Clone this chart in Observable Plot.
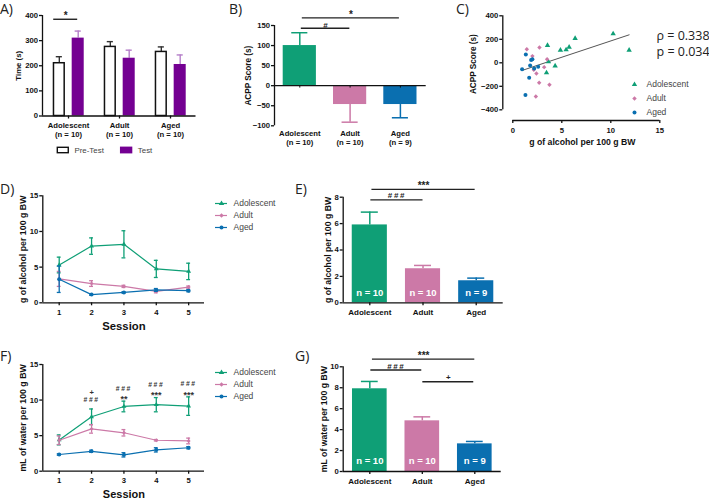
<!DOCTYPE html>
<html><head><meta charset="utf-8">
<script src="https://cdn.jsdelivr.net/npm/d3@7"></script>
<script src="https://cdn.jsdelivr.net/npm/@observablehq/plot@0.6"></script>
<style>
html,body{margin:0;padding:0;background:#fff;overflow:hidden}
#page{position:relative;width:709px;height:500px;overflow:hidden}
#page svg{position:absolute;overflow:visible}
.note{position:absolute;font-family:"Open Sans";color:#222;white-space:pre;line-height:1}
</style></head><body><div id="page"></div>
<script>
// ---------- data ----------
const ageGroups = ["Adolescent", "Adult", "Aged"];
const colors = ["#0f9f76", "#cc79a7", "#0a6fb0"];
const symbols = ["triangle", "diamond2", "circle"];
const sessions = [1, 2, 3, 4, 5];

const timeLabels = ["Adolescent\n(n = 10)", "Adult\n(n = 10)", "Aged\n(n = 10)"];
const timePre = [210, 275, 255];
const timePreErr = [236, 296, 275];
const timeTest = [310, 230, 205];
const timeTestErr = [338, 262, 243];

const acppLabels = ["Adolescent\n(n = 10)", "Adult\n(n = 10)", "Aged\n(n = 9)"];
const acpp = [100, -47, -47];
const acppErr = [132, -91, -80];

const corrAdolescent = [[10.24,247],[11.87,108],[6.36,207],[5.75,133],[5.44,111],[4.86,108],[3.54,148],[3.64,9],[4.32,-26],[3.44,-85]];
const corrAdult = [[1.43,116],[2.72,131],[2.0,57],[3.5,31],[3.2,-37],[2.14,-60],[2.41,-91],[2.69,-170],[3.74,-187],[2.35,-287]];
const corrAged = [[1.33,71],[1.87,23],[1.77,-23],[2.59,-34],[2.18,-48],[0.95,-54],[1.67,-128],[1.29,-275],[2.0,30]];
const corrFit = [[0.95,-65],[11.87,238]];

const alcAdolescent = [5.3, 7.95, 8.2, 4.75, 4.4];
const alcAdolescentErr = [1.1, 1.15, 1.9, 1.2, 1.15];
const alcAdult = [3.35, 2.7, 2.3, 1.6, 2.2];
const alcAdultErr = [1.05, 0.4, 0.15, 0.2, 0.15];
const alcAged = [3.3, 1.15, 1.45, 1.8, 1.7];
const alcAgedErr = [1.85, 0.1, 0.1, 0.2, 0.15];

const alcTotal = [5.9, 2.58, 1.67];
const alcTotalErr = [6.87, 2.83, 1.87];

const waterAdolescent = [4.4, 7.65, 9.1, 9.35, 9.15];
const waterAdolescentErr = [0.7, 1.1, 0.75, 1.0, 1.3];
const waterAdult = [4.35, 5.95, 5.4, 4.35, 4.25];
const waterAdultErr = [0.6, 0.6, 0.45, 0.1, 0.4];
const waterAged = [2.35, 2.8, 2.3, 3.0, 3.3];
const waterAgedErr = [0.1, 0.15, 0.3, 0.3, 0.15];

const waterTotal = [7.9, 4.84, 2.64];
const waterTotalErr = [8.6, 5.22, 2.87];

const nLabels = ["n = 10", "n = 10", "n = 9"];
const waterHash = [[2,9.98,"###"],[3,11.55,"###"],[4,12.15,"###"],[5,12.25,"###"]];
const waterPlus = [[2,11.1,"+"]];
const waterStars = [[3,10.2,"**"],[4,10.75,"***"],[5,10.75,"***"]];

// ---------- helpers ----------
const page = document.getElementById("page");
const INK = "#111", AXW = 1.3, FONT = "Liberation Sans";

function panel(box, frame, x, y, marks) {
  const [x0, y0, x1, y1] = box, [fl, ft, fr, fb] = frame;
  const svg = Plot.plot({
    width: x1 - x0, height: y1 - y0,
    marginLeft: fl - x0, marginTop: ft - y0, marginRight: x1 - fr, marginBottom: y1 - fb,
    x: {axis: null, ...x}, y: {axis: null, ...y},
    style: {fontFamily: FONT, background: "transparent", color: INK, overflow: "visible"},
    marks
  });
  svg.style.left = x0 + "px"; svg.style.top = y0 + "px";
  d3.select(svg).selectAll("text").filter(function () { return this.textContent === "###"; }).style("letter-spacing", "1.6px");
  page.appendChild(svg);
}
const yAxis = (ticks, fontSize = 7.7) => Plot.axisY({ticks, tickSize: 3, tickPadding: 1.5, label: null, fontSize, fontWeight: "bold", strokeWidth: AXW});
const xAxis = (ticks, fmt, fontSize = 7.7, tickPadding = 2.5) => Plot.axisX({ticks, tickFormat: fmt, tickSize: 3, tickPadding, label: null, fontSize, fontWeight: "bold", lineHeight: 1.17, strokeWidth: AXW});
const yTitle = (t, dx, fontSize, dy = 0) => Plot.text([t], {frameAnchor: "left", textAnchor: "middle", dx, dy, rotate: -90, fontSize, fontWeight: "bold"});
const spine = (xv, lo, hi) => Plot.ruleX([xv], {y1: lo, y2: hi, stroke: INK, strokeWidth: AXW});
const base = (yv, a, b) => Plot.ruleY([yv], {x1: a, x2: b, stroke: INK, strokeWidth: AXW});

function errorBars(rows, cap, stroke, sw = 1.4) {
  return [
    Plot.ruleX(rows, {x: "x", y1: "v", y2: "e", stroke, strokeWidth: sw}),
    Plot.ruleY(rows, {x1: d => d.x - cap, x2: d => d.x + cap, y: "e", stroke, strokeWidth: sw})
  ];
}
function sig(a, b, yLine, yText, label) {
  return [
    Plot.ruleY([yLine], {x1: a, x2: b, stroke: "#222", strokeWidth: 1.4}),
    Plot.text([label], {x: (a + b) / 2, y: yText, fontSize: label.includes("*") ? 10 : 8, fill: "#222", fontWeight: "bold"})
  ];
}
function groupBars(values, tops) {
  const rows = values.map((v, i) => ({x: i, v, e: tops[i], c: colors[i]}));
  return [
    ...rows.flatMap(r => errorBars([r], 0.16, r.c, 1.5)),
    Plot.rect(rows, {x1: d => d.x - 0.33, x2: d => d.x + 0.33, y1: 0, y2: "v", fill: "c"})
  ];
}
function lineMarks(series) {
  return series.flatMap(([vals, errs], k) => {
    const rows = vals.map((v, i) => ({s: sessions[i], v, lo: v - errs[i], hi: v + errs[i]}));
    return [
      Plot.ruleX(rows, {x: "s", y1: "lo", y2: "hi", stroke: colors[k], strokeWidth: 1.3}),
      Plot.ruleY(rows, {x1: d => d.s - 0.06, x2: d => d.s + 0.06, y: "lo", stroke: colors[k], strokeWidth: 1.3}),
      Plot.ruleY(rows, {x1: d => d.s - 0.06, x2: d => d.s + 0.06, y: "hi", stroke: colors[k], strokeWidth: 1.3}),
      Plot.line(rows, {x: "s", y: "v", stroke: colors[k], strokeWidth: 1.2}),
      Plot.dot(rows, {x: "s", y: "v", fill: colors[k], symbol: symbols[k], r: k === 2 ? 2 : 1.8})
    ];
  });
}
function legend(left, top, rowGap, swatchW, textGap, withLine, fontSize) {
  const rows = ageGroups.map((g, i) => ({g, c: colors[i], s: symbols[i]}));
  panel([left, top - 8, left + 72, top + 2 * rowGap + 8], [left, top, left + swatchW, top + 2 * rowGap],
    {domain: [0, 1]}, {type: "point", domain: ageGroups, padding: 0}, [
      withLine ? Plot.ruleY(rows, {y: "g", x1: 0, x2: 1, stroke: "c", strokeWidth: 1.2}) : null,
      Plot.dot(rows, {x: 0.5, y: "g", fill: "c", symbol: "s", r: 2}),
      Plot.text(rows, {x: 1, y: "g", text: "g", dx: textGap, textAnchor: "start", fontSize, fill: "#444"})
    ]);
}
function note(text, left, top, size, extra = "") {
  const d = document.createElement("div");
  d.className = "note"; d.textContent = text;
  d.style.cssText = `left:${left}px;top:${top}px;font-size:${size}px;${extra}`;
  page.appendChild(d);
}

// ---------- A ----------
{
  const pre = timePre.map((v, i) => ({x: i - 0.18, v, e: timePreErr[i]}));
  const test = timeTest.map((v, i) => ({x: i + 0.19, v, e: timeTestErr[i]}));
  panel([0, 5, 200, 145], [42, 15, 195.5, 115.5], {domain: [-0.51, 2.5]}, {domain: [0, 400]}, [
    ...errorBars(pre, 0.06, "#333"),
    ...errorBars(test, 0.06, "#b57fc9"),
    Plot.rect(pre, {x1: d => d.x - 0.105, x2: d => d.x + 0.105, y1: 0, y2: "v", fill: "white", stroke: INK, strokeWidth: 1.5}),
    Plot.rect(test, {x1: d => d.x - 0.118, x2: d => d.x + 0.118, y1: 0, y2: "v", fill: "#740092"}),
    base(0, -0.51, 2.5), spine(-0.51, 0, 400),
    yAxis([0, 100, 200, 300, 400]),
    xAxis([0, 1, 2], d => timeLabels[d], 7.7, 3),
    yTitle("Time (s)", -24, 7.8),
    ...sig(-0.29, 0.18, 385, 398, "*")
  ]);
  const keys = ["Pre-Test", "Test"];
  panel([50, 142, 200, 158], [57.3, 147.3, 184, 152.7], {domain: [0, 2]}, {domain: [0, 1]}, [
    Plot.rect(keys, {x1: (d, i) => i, x2: (d, i) => i + 0.173, y1: 0, y2: 1, fill: (d, i) => i ? "#740092" : "white", stroke: (d, i) => i ? "#740092" : INK, strokeWidth: 1.4}),
    Plot.text(keys, {x: (d, i) => i + 0.263, y: 0.5, text: d => d, textAnchor: "start", fontSize: 7.9, fill: "#444"})
  ]);
}
// ---------- B ----------
panel([225, 10, 430, 150], [274, 25, 425.7, 125.3], {domain: [-0.503, 2.513]}, {domain: [-100, 150]}, [
  ...groupBars(acpp, acppErr),
  base(0, -0.503, 2.513), spine(-0.503, -100, 150),
  Plot.ruleX([0, 1, 2], {y1: 0, y2: -6, stroke: INK, strokeWidth: 1}),
  yAxis([-100, -50, 0, 50, 100, 150]),
  Plot.text(acppLabels, {x: (d, i) => i, frameAnchor: "bottom", lineAnchor: "top", dy: 3.5, fontSize: 7.7, fontWeight: "bold", lineHeight: 1.17}),
  yTitle("ACPP Score (s)", -26.5, 8.2),
  ...sig(0.03, 0.995, 143, 150, "#"),
  ...sig(0.05, 1.98, 169, 176, "*")
]);
// ---------- C ----------
{
  const toRows = (pts, k) => pts.map(([x, y]) => ({x, y, k}));
  const all = [...toRows(corrAdolescent, 0), ...toRows(corrAdult, 1), ...toRows(corrAged, 2)];
  panel([465, 5, 670, 150], [502.3, 15.3, 659.3, 120], {domain: [-1.02, 15]}, {domain: [-491, 400]}, [
    Plot.line(corrFit, {x: d => d[0], y: d => d[1], stroke: "#555", strokeWidth: 1}),
    Plot.dot(all, {x: "x", y: "y", fill: d => colors[d.k], symbol: d => symbols[d.k], r: 2}),
    spine(-1.02, -400, 400), base(-491, 0, 15),
    Plot.axisY({ticks: [-400, -200, 0, 200, 400], tickSize: 3, tickPadding: 1.5, label: null, fontSize: 7.7, fontWeight: "bold", strokeWidth: AXW}),
    xAxis([0, 5, 10, 15], d => d, 7.7, 3.5),
    Plot.text(["g of alcohol per 100 g BW"], {frameAnchor: "bottom", textAnchor: "middle", lineAnchor: "top", dy: 18, fontSize: 8.7, fontWeight: "bold", x: 7.1}),
    yTitle("ACPP Score (s)", -29, 8.2, -4)
  ]);
  note("ρ = 0.338", 656.5, 29.5, 12.5);
  note("p = 0.034", 656.5, 46, 12.5);
  legend(633.7 - 3, 84, 14, 6, 9, false, 8.5);
}
// ---------- D ----------
const sessionDomain = {domain: [0.493, 5.49]};
panel([5, 185, 210, 335], [42.3, 195.3, 204, 302.3], sessionDomain, {domain: [0, 15]}, [
  ...lineMarks([[alcAdolescent, alcAdolescentErr], [alcAdult, alcAdultErr], [alcAged, alcAgedErr]]),
  base(0, 0.493, 5.49), spine(0.493, 0, 15),
  yAxis([0, 5, 10, 15]),
  xAxis(sessions, d => d),
  yTitle("g of alcohol per 100 g BW", -19.5, 8.8),
  Plot.text(["Session"], {x: 3, frameAnchor: "bottom", lineAnchor: "middle", dy: 24, fontSize: 11.3, fontWeight: "bold"})
]);
legend(215, 202.7, 12.3, 12, 6, true, 8.5);
// ---------- E ----------
panel([322, 175, 510, 322], [342.7, 196.7, 502.7, 302.3], {domain: [-0.5, 2.507]}, {domain: [0, 8]}, [
  ...groupBars(alcTotal, alcTotalErr),
  Plot.text(nLabels, {x: (d, i) => i, y: 0.76, fill: "white", fontSize: 9.5, fontWeight: "bold"}),
  base(0, -0.5, 2.507), spine(-0.5, 0, 8),
  yAxis([0, 2, 4, 6, 8]),
  xAxis([0, 1, 2], d => ageGroups[d], 8),
  yTitle("g of alcohol per 100 g BW", -15.4, 8.7),
  ...sig(0.04, 1.98, 8.59, 8.85, "***"),
  ...sig(0.02, 1, 7.8, 8.1, "###")
]);
// ---------- F ----------
panel([5, 350, 210, 497], [42.3, 364, 204, 470.7], sessionDomain, {domain: [0, 15]}, [
  ...lineMarks([[waterAdolescent, waterAdolescentErr], [waterAdult, waterAdultErr], [waterAged, waterAgedErr]]),
  base(0, 0.493, 5.49), spine(0.493, 0, 15),
  yAxis([0, 5, 10, 15]),
  xAxis(sessions, d => d),
  yTitle("mL of water per 100 g BW", -19.5, 8.8),
  Plot.text(["Session"], {x: 3, frameAnchor: "bottom", lineAnchor: "middle", dy: 23, fontSize: 11, fontWeight: "bold"}),
  Plot.text(waterHash, {x: d => d[0], y: d => d[1], text: d => d[2], fontSize: 6.8, fill: "#333", fontWeight: "bold"}),
  Plot.text(waterPlus, {x: d => d[0], y: d => d[1], text: d => d[2], fontSize: 7.5, fill: "#333", fontWeight: "bold"}),
  Plot.text(waterStars, {x: d => d[0], y: d => d[1], text: d => d[2], fontSize: 9, fill: "#333", fontWeight: "bold"})
]);
legend(215, 370.7, 12.5, 12, 6, true, 8.5);
// ---------- G ----------
panel([318, 345, 510, 490], [342.7, 366.3, 500.7, 471], {domain: [-0.507, 2.503]}, {domain: [0, 10]}, [
  ...groupBars(waterTotal, waterTotalErr),
  Plot.text(nLabels, {x: (d, i) => i, y: 0.98, fill: "white", fontSize: 9.5, fontWeight: "bold"}),
  base(0, -0.507, 2.503), spine(-0.507, 0, 10),
  yAxis([0, 2, 4, 6, 8, 10]),
  xAxis([0, 1, 2], d => ageGroups[d], 8),
  yTitle("mL of water per 100 g BW", -19.4, 8.7),
  ...sig(0.05, 2, 10.73, 11.05, "***"),
  ...sig(0.02, 0.99, 9.7, 10.05, "###"),
  ...sig(1.01, 1.98, 8.57, 8.95, "+")
]);
// ---------- panel letters ----------
[["A)", 0, 2], ["B)", 229, 2], ["C)", 456, 2], ["D)", 0, 182], ["E)", 295, 182], ["F)", 0, 348.5], ["G)", 295, 348.5]]
  .forEach(([t, x, y]) => note(t, x, y, 14));
</script></body></html>
